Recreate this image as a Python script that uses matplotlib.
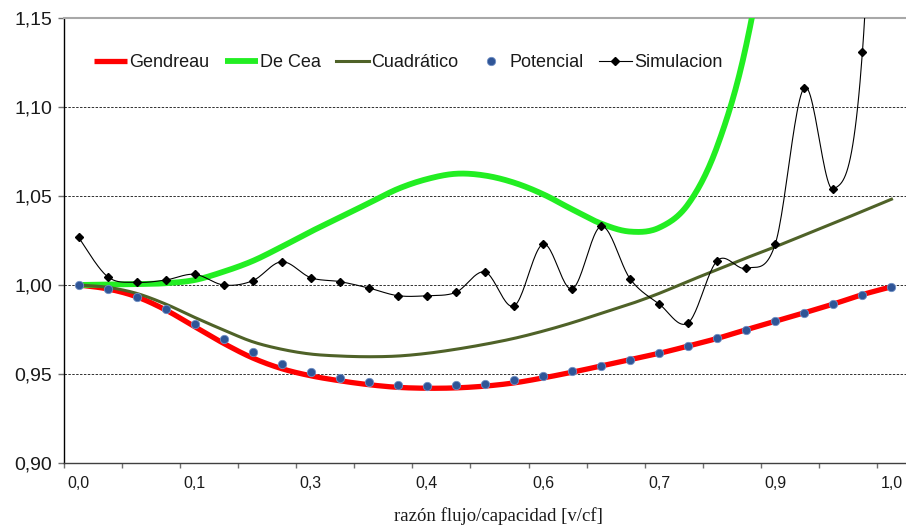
import numpy as np
import matplotlib
matplotlib.use("Agg")
import matplotlib.pyplot as plt
from matplotlib.lines import Line2D

plt.rcParams['font.family'] = ['Liberation Sans', 'DejaVu Sans']

# ---------------- data ----------------
ratio = [0.00, 0.04, 0.07, 0.11, 0.14, 0.18, 0.21, 0.25, 0.29, 0.32, 0.36, 0.39,
         0.43, 0.46, 0.50, 0.54, 0.57, 0.61, 0.64, 0.68, 0.71, 0.75, 0.79, 0.82,
         0.86, 0.89, 0.93, 0.96, 1.00]

gendreau = [1.000, 0.9978, 0.9934, 0.9860, 0.9766, 0.9672, 0.9590, 0.9530, 0.9490,
            0.9462, 0.9440, 0.9425, 0.9420, 0.9422, 0.9432, 0.9450, 0.9478, 0.9510,
            0.9545, 0.9580, 0.9616, 0.9657, 0.9700, 0.9749, 0.9796, 0.9844, 0.9893,
            0.9946, 0.9990]

de_cea = [1.000, 1.0003, 1.0005, 1.0010, 1.0028, 1.0075, 1.0135, 1.0215, 1.0300,
          1.0380, 1.0460, 1.0540, 1.0595, 1.0625, 1.0615, 1.0575, 1.0510, 1.0425,
          1.0345, 1.0300, 1.0322, 1.0455, 1.0780, 1.1350, 1.2300, 1.3700, 1.5600,
          1.8000, 2.1000]

cuadratico = [1.000, 0.9987, 0.9953, 0.9893, 0.9818, 0.9747, 0.9681, 0.9639, 0.9612,
              0.9601, 0.9597, 0.9601, 0.9616, 0.9639, 0.9667, 0.9700, 0.9741, 0.9788,
              0.9841, 0.9893, 0.9953, 1.0021, 1.0086, 1.0152, 1.0215, 1.0281, 1.0347,
              1.0414, 1.0482]

potencial = [1.000, 0.9976, 0.9931, 0.9863, 0.9779, 0.9695, 0.9622, 0.9558, 0.9511,
             0.9476, 0.9453, 0.9438, 0.9433, 0.9436, 0.9446, 0.9464, 0.9489, 0.9517,
             0.9547, 0.9580, 0.9616, 0.9657, 0.9700, 0.9749, 0.9796, 0.9844, 0.9893,
             0.9946, 0.9990]

simulacion = [1.0268, 1.0047, 1.0015, 1.0028, 1.0060, 1.0000, 1.0024, 1.0131, 1.0041,
              1.0019, 0.9983, 0.9940, 0.9940, 0.9959, 1.0073, 0.9882, 1.0230, 0.9978,
              1.0330, 1.0034, 0.9893, 0.9788, 1.0137, 1.0094, 1.0232, 1.1109, 1.0539,
              1.1311, 1.5000]

series_names = ["Gendreau", "De Cea", "Cuadrático", "Potencial", "Simulacion"]
y_ticks = [0.90, 0.95, 1.00, 1.05, 1.10, 1.15]
label_every = 4
x_title = "razón flujo/capacidad [v/cf]"


def smooth(xs, ys, n=24):
    """Excel-like smoothed line (Catmull-Rom Bezier) for drawing."""
    P = np.column_stack([xs, ys]).astype(float)
    m = len(P)
    out = [P[0]]
    t = np.linspace(0, 1, n + 1)[1:]
    for i in range(m - 1):
        p0 = P[i - 1] if i > 0 else P[i]
        p1 = P[i]
        p2 = P[i + 1]
        p3 = P[i + 2] if i + 2 < m else P[i + 1]
        c1 = p1 + (p2 - p0) / 6.0
        c2 = p2 - (p3 - p1) / 6.0
        tt = t[:, None]
        seg = ((1 - tt) ** 3) * p1 + 3 * ((1 - tt) ** 2) * tt * c1 + 3 * (1 - tt) * tt ** 2 * c2 + tt ** 3 * p2
        out.extend(seg)
    out = np.array(out)
    return out[:, 0], out[:, 1]


W, H = 906, 528
fig = plt.figure(figsize=(W / 100, H / 100), dpi=100)
ax = fig.add_axes([64 / W, 1 - 463 / H, 842 / W, 445 / H])

xc = np.arange(len(ratio))

# gridlines
for yv in y_ticks[1:-1]:
    ax.axhline(yv, color='#303030', lw=0.7, ls=(0, (2.5, 1.5)), zorder=1)

gx, gy = smooth(xc, gendreau)
ax.plot(gx, gy, color='#ff0000', lw=3.8, solid_capstyle='butt', zorder=3)
dx, dy = smooth(xc, de_cea)
ax.plot(dx, dy, color='#22ee22', lw=4.2, solid_capstyle='butt', zorder=3)
cx, cy = smooth(xc, cuadratico)
ax.plot(cx, cy, color='#4f6228', lw=2.2, zorder=3)
ax.plot(xc, potencial, ls='none', marker='o', ms=6, color='#2f5597',
        mec='#6f8fc4', mew=0.6, zorder=4)
sx, sy = smooth(xc, simulacion)
ax.plot(sx, sy, color='#000000', lw=0.8, zorder=5)
ax.plot(xc, simulacion, ls='none', marker='D', ms=4.2, color='#000000', zorder=6)

ax.set_xlim(-0.5, len(ratio) - 0.5)
ax.set_ylim(y_ticks[0], y_ticks[-1])

# y axis
ax.set_yticks(y_ticks)
ax.set_yticklabels([f"{v:.2f}".replace('.', ',') for v in y_ticks])
ax.tick_params(axis='y', direction='out', length=4.5, width=1, color='#707070',
               labelsize=14, pad=4, labelcolor='#1a1a1a')

# x axis: tick marks between every 2 categories, labels every 4 categories
ax.set_xticks(np.arange(-0.5, len(ratio) - 0.5, 2))
ax.set_xticklabels([])
ax.tick_params(axis='x', which='major', direction='out', length=3.5, width=1, color='#707070')
lab_pos = xc[::label_every]
ax.set_xticks(lab_pos, minor=True)
ax.set_xticklabels([f"{ratio[i]:.1f}".replace('.', ',') for i in lab_pos], minor=True)
ax.tick_params(axis='x', which='minor', length=0, labelsize=11.5, pad=9, labelcolor='#1a1a1a')

ax.spines['right'].set_visible(False)
ax.spines['top'].set_color('#a8a8a8')
ax.spines['top'].set_linewidth(1.5)
ax.spines['left'].set_color('#000000')
ax.spines['left'].set_linewidth(1.0)
ax.spines['bottom'].set_color('#404040')
ax.spines['bottom'].set_linewidth(1.0)

fig.text(498 / W, 1 - 516 / H, x_title, ha='center', va='center',
         family=['Liberation Serif', 'DejaVu Serif'], fontsize=13.5, color='#1a1a1a')

handles = [
    Line2D([], [], color='#ff0000', lw=3.8, solid_capstyle='butt'),
    Line2D([], [], color='#22ee22', lw=4.2, solid_capstyle='butt'),
    Line2D([], [], color='#4f6228', lw=2.2),
    Line2D([], [], ls='none', marker='o', ms=6, color='#2f5597', mec='#6f8fc4', mew=0.6),
    Line2D([], [], color='#000000', lw=0.8, marker='D', ms=4.2),
]
leg = ax.legend(handles, series_names, ncol=5, frameon=False, loc='center',
                bbox_to_anchor=(0.409, 0.899), fontsize=13, handlelength=1.83,
                handletextpad=0.12, columnspacing=0.85, borderpad=0)
for t in leg.get_texts():
    t.set_color('#1a1a1a')

fig.savefig('out.png', dpi=100)
